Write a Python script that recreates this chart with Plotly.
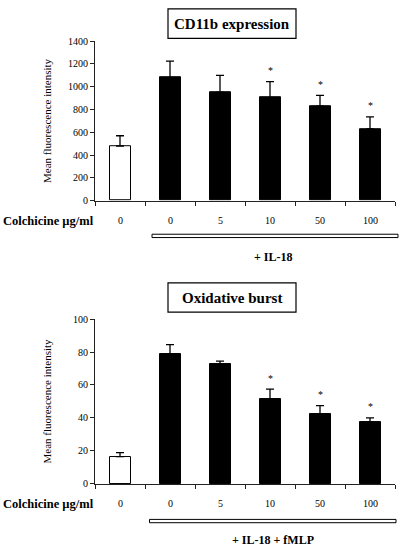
import plotly.graph_objects as go

# ---- data ----
categories = ["0", "0", "5", "10", "50", "100"]
cd11b_mean = [480, 1080, 950, 905, 830, 630]
cd11b_err = [90, 145, 150, 140, 95, 105]
ox_mean = [16.5, 79, 72.5, 51.5, 42.5, 37.5]
ox_err = [2.5, 5.5, 2, 6, 5, 2.5]
significant = [False, False, False, True, True, True]
cd11b_ticks = [0, 200, 400, 600, 800, 1000, 1200, 1400]
ox_ticks = [0, 20, 40, 60, 80, 100]

W, H = 400, 552
SERIF = "Liberation Serif, Times New Roman, serif"


def px(x):
    return x / W


def py(y):
    return 1 - y / H


xs = list(range(len(categories)))
bar_colors = ["white"] + ["black"] * (len(categories) - 1)

fig = go.Figure()

for mean, err, xa, ya in [(cd11b_mean, cd11b_err, "x", "y"), (ox_mean, ox_err, "x2", "y2")]:
    fig.add_trace(go.Bar(
        x=xs, y=mean, width=0.42,
        marker=dict(color=bar_colors, line=dict(color="black", width=1)),
        error_y=dict(type="data", symmetric=False, array=err,
                     arrayminus=[0] * len(err), color="black", thickness=1.3, width=4),
        xaxis=xa, yaxis=ya, showlegend=False, hoverinfo="skip",
    ))

common_x = dict(range=[-0.5, 5.5], tickvals=[i - 0.5 for i in range(len(categories) + 1)],
                ticktext=[""] * (len(categories) + 1), ticks="outside", ticklen=4,
                tickcolor="#222", showline=True, linecolor="#222", linewidth=1,
                showgrid=False, zeroline=False, fixedrange=True)
common_y = dict(ticks="outside", ticklen=4, tickcolor="#222", showline=True,
                linecolor="#222", linewidth=1, showgrid=False, zeroline=False,
                tickfont=dict(family=SERIF, size=10, color="black"), fixedrange=True)

fig.update_layout(
    width=W, height=H, autosize=False,
    margin=dict(l=0, r=0, t=0, b=0),
    paper_bgcolor="white", plot_bgcolor="white",
    bargap=0,
    xaxis=dict(domain=[px(95), px(395)], anchor="y", **common_x),
    yaxis=dict(domain=[py(199), py(36)], anchor="x", range=[0, 1400],
               tickvals=cd11b_ticks, **common_y),
    xaxis2=dict(domain=[px(95), px(395)], anchor="y2", **common_x),
    yaxis2=dict(domain=[py(488.5), py(320)], anchor="x2", range=[0, 100],
                tickvals=ox_ticks, **common_y),
)

annotations = []
shapes = []

panels = [
    dict(xref="x", yref="y", mean=cd11b_mean, err=cd11b_err, title="CD11b expression",
         box=(168, 3, 296, 33), axis_y=199, top_y=36, bar=(152, 233.3, 398, 236.7),
         label="+ IL-18", label_y=257),
    dict(xref="x2", yref="y2", mean=ox_mean, err=ox_err, title="Oxidative burst",
         box=(168, 283, 296, 313), axis_y=488.5, top_y=320, bar=(149.5, 524.8, 396, 528.2),
         label="+ IL-18 + fMLP", label_y=545.5),
]

for p in panels:
    x0, y0, x1, y1 = p["box"]
    shapes.append(dict(type="rect", xref="paper", yref="paper", x0=px(x0), x1=px(x1),
                       y0=py(y1), y1=py(y0), line=dict(color="black", width=1.2),
                       fillcolor="white"))
    annotations.append(dict(text="<b>%s</b>" % p["title"], xref="paper", yref="paper",
                            x=px((x0 + x1) / 2), y=py((y0 + y1) / 2), showarrow=False,
                            xanchor="center", yanchor="middle",
                            font=dict(family=SERIF, size=15, color="black")))
    # y-axis title
    annotations.append(dict(text="Mean fluorescence intensity", xref="paper", yref="paper",
                            x=px(47), y=py((p["axis_y"] + p["top_y"]) / 2), textangle=-90,
                            showarrow=False, xanchor="center", yanchor="middle",
                            font=dict(family=SERIF, size=11, color="black")))
    # category labels
    lab_y = p["axis_y"] + 20.5
    for i, c in enumerate(categories):
        annotations.append(dict(text=c, xref=p["xref"], yref="paper", x=i, y=py(lab_y),
                                showarrow=False, xanchor="center", yanchor="middle",
                                font=dict(family=SERIF, size=10, color="black")))
    annotations.append(dict(text="<b>Colchicine \u00b5g/ml</b>", xref="paper", yref="paper",
                            x=px(1), y=py(lab_y), showarrow=False, xanchor="left",
                            yanchor="middle", font=dict(family=SERIF, size=12.5, color="black")))
    # significance stars
    for i, s in enumerate(significant):
        if s:
            annotations.append(dict(text="*", xref=p["xref"], yref=p["yref"], x=i,
                                    y=p["mean"][i] + p["err"][i], yshift=11, showarrow=False,
                                    xanchor="center", yanchor="middle",
                                    font=dict(family=SERIF, size=10, color="black")))
    bx0, by0, bx1, by1 = p["bar"]
    shapes.append(dict(type="rect", xref="paper", yref="paper", x0=px(bx0), x1=px(bx1),
                       y0=py(by1), y1=py(by0), line=dict(color="black", width=1),
                       fillcolor="white"))
    annotations.append(dict(text="<b>%s</b>" % p["label"], xref="paper", yref="paper",
                            x=px(273), y=py(p["label_y"]), showarrow=False,
                            xanchor="center", yanchor="middle",
                            font=dict(family=SERIF, size=12, color="black")))

fig.update_layout(annotations=annotations, shapes=shapes)
fig.write_html("out.html", config={"displayModeBar": False},
               post_script="document.body.style.margin='0px';"
                           "document.body.style.overflow='hidden';")
